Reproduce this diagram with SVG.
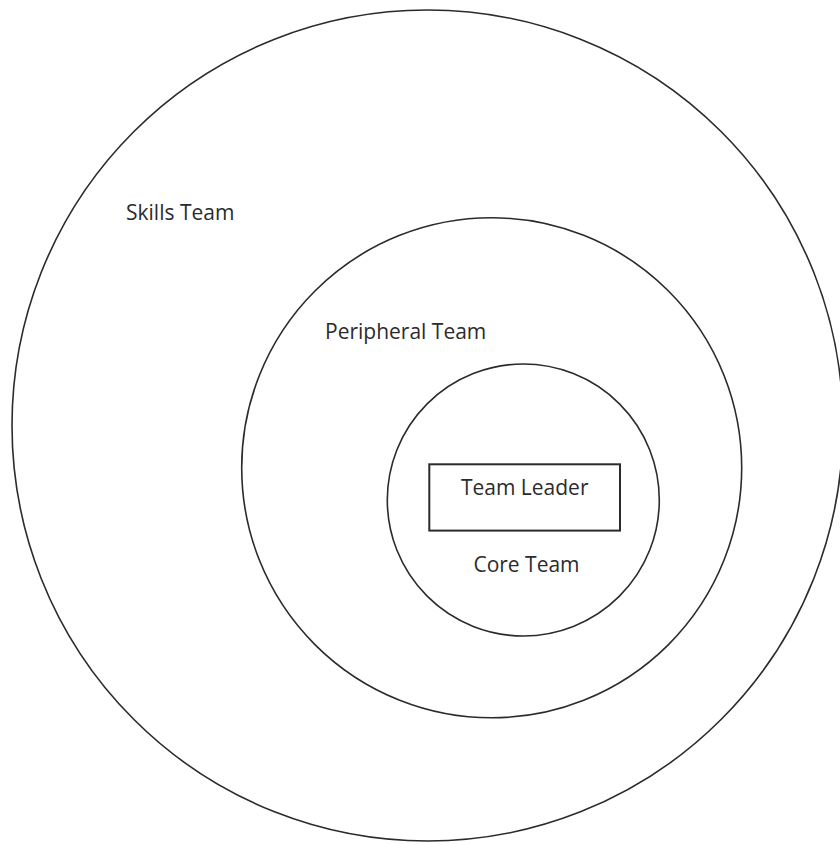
<svg xmlns="http://www.w3.org/2000/svg" width="840" height="844" viewBox="0 0 840 844">
<style>
.ring{fill:none;stroke:#2b2b2b;stroke-width:1.6}
.box{fill:#fff;stroke:#2b2b2b;stroke-width:2}
.lbl{font-family:"Open Sans","Liberation Sans",sans-serif;font-size:21px;fill:#2b2b2b}
</style>
<rect width="840" height="844" fill="#fff"/>
<g id="skills-team">
<circle class="ring" cx="427.5" cy="425.5" r="415.5"/>
<text class="lbl" x="126" y="220">Skills Team</text>
</g>
<g id="peripheral-team">
<circle class="ring" cx="491.7" cy="467.8" r="250"/>
<text class="lbl" x="325" y="338.5">Peripheral Team</text>
</g>
<g id="core-team">
<circle class="ring" cx="523.3" cy="500" r="136"/>
<text class="lbl" x="526.5" y="571.5" text-anchor="middle">Core Team</text>
</g>
<g id="team-leader">
<rect class="box" x="429.3" y="464.3" width="190.7" height="66.3"/>
<text class="lbl" x="524.7" y="495" text-anchor="middle">Team Leader</text>
</g>
<g id="connectors"/>
</svg>
